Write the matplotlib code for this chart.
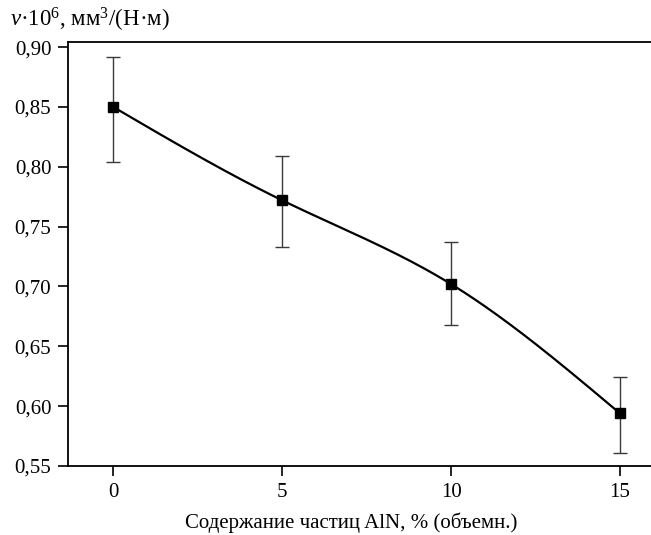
import numpy as np
import matplotlib
matplotlib.use("Agg")
import matplotlib.pyplot as plt
from matplotlib.ticker import FuncFormatter

plt.rcParams['font.family'] = ['Liberation Serif', 'DejaVu Serif']
plt.rcParams['mathtext.fontset'] = 'custom'
plt.rcParams['mathtext.rm'] = 'Liberation Serif'
plt.rcParams['mathtext.it'] = 'Liberation Serif:italic'

# Data
content = [0, 5, 10, 15]
wear = [0.850, 0.772, 0.702, 0.594]
err_upper = [0.892, 0.809, 0.737, 0.624]
err_lower = [0.804, 0.733, 0.668, 0.561]
x_ticks = [0, 5, 10, 15]
y_ticks = [0.55, 0.60, 0.65, 0.70, 0.75, 0.80, 0.85, 0.90]
x_label = "Содержание частиц AlN, % (объемн.)"
y_label = r"$\mathit{v}$·10$^{6}$, мм$^{3}$/(Н·м)"


def natural_spline(x, y, n=200):
    x = np.asarray(x, float)
    y = np.asarray(y, float)
    m = len(x)
    h = np.diff(x)
    A = np.zeros((m, m))
    b = np.zeros(m)
    A[0, 0] = A[-1, -1] = 1
    for i in range(1, m - 1):
        A[i, i - 1] = h[i - 1]
        A[i, i] = 2 * (h[i - 1] + h[i])
        A[i, i + 1] = h[i]
        b[i] = 6 * ((y[i + 1] - y[i]) / h[i] - (y[i] - y[i - 1]) / h[i - 1])
    M = np.linalg.solve(A, b)
    xs = np.linspace(x[0], x[-1], n)
    ys = np.empty_like(xs)
    for k, t in enumerate(xs):
        i = min(np.searchsorted(x, t, side='right') - 1, m - 2)
        dx1 = x[i + 1] - t
        dx0 = t - x[i]
        ys[k] = (M[i] * dx1 ** 3 / (6 * h[i]) + M[i + 1] * dx0 ** 3 / (6 * h[i])
                 + (y[i] / h[i] - M[i] * h[i] / 6) * dx1
                 + (y[i + 1] / h[i] - M[i + 1] * h[i] / 6) * dx0)
    return xs, ys


fig = plt.figure(figsize=(6.51, 5.35), dpi=100)
ax = fig.add_axes([0.1045, 0.129, 0.8955, 0.7925])

xs, ys = natural_spline(content, wear)
ax.plot(xs, ys, color='black', lw=1.6, zorder=2)

yerr = [np.array(wear) - np.array(err_lower), np.array(err_upper) - np.array(wear)]
ax.errorbar(content, wear, yerr=yerr, fmt='none', ecolor='#3a3a3a',
            elinewidth=1.0, capsize=5.2, capthick=1.0, zorder=3)
ax.plot(content, wear, 's', color='black', ms=6.5, zorder=4)

ax.set_xlim(-1.34, 15.92)
ax.set_ylim(0.55, 0.9043)
ax.set_xticks(x_ticks)
ax.set_yticks(y_ticks)
ax.yaxis.set_major_formatter(FuncFormatter(lambda v, p: f"{v:.2f}".replace('.', ',')))
ax.tick_params(direction='out', length=7, width=1.2, labelsize=15, pad=5)
ax.spines['right'].set_visible(False)
for s in ['left', 'bottom', 'top']:
    ax.spines[s].set_linewidth(1.3)

ax.set_xlabel(x_label, fontsize=15)
ax.xaxis.set_label_coords(0.485, -0.11)
fig.text(0.016, 0.962, y_label, fontsize=16.5, ha='left', va='center')

fig.savefig('out.png', dpi=100)
